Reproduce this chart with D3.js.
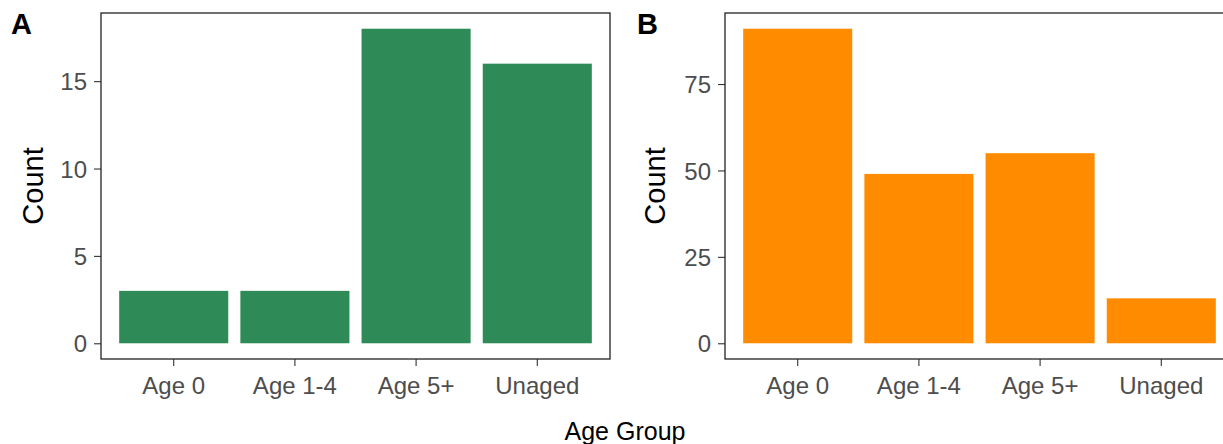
<!DOCTYPE html>
<html>
<head>
<meta charset="utf-8">
<script src="https://cdn.jsdelivr.net/npm/d3@7"></script>
<style>
  body { margin: 0; background: #fff; }
  svg { display: block; font-family: "Liberation Sans", Arial, sans-serif; }
</style>
</head>
<body>
<script>
// chart data
var ageGroups = ["Age 0", "Age 1-4", "Age 5+", "Unaged"];
var countsA = [3, 3, 18, 16];
var countsB = [91, 49, 55, 13];
var ticksA = [0, 5, 10, 15];
var ticksB = [0, 25, 50, 75];

var width = 1223, height = 444;

var svg = d3.select("body").append("svg")
    .attr("width", width)
    .attr("height", height);

function drawPanel(opts) {
    var left = opts.left, right = opts.right, top = 13, bottom = 359;
    var maxV = d3.max(opts.values);
    var pad = maxV * 0.05;

    var x = d3.scaleBand()
        .domain(ageGroups)
        .range([left, right])
        .paddingInner(0.1)
        .paddingOuter(0.15);
    var y = d3.scaleLinear()
        .domain([-pad, maxV + pad])
        .range([bottom, top]);

    var g = svg.append("g");

    g.selectAll("rect.bar")
        .data(opts.values)
        .enter().append("rect")
        .attr("class", "bar")
        .attr("x", function(d, i) { return x(ageGroups[i]); })
        .attr("width", x.bandwidth())
        .attr("y", function(d) { return y(d); })
        .attr("height", function(d) { return y(0) - y(d); })
        .attr("fill", opts.color);

    // y axis
    var yAxis = g.append("g")
        .attr("transform", "translate(" + left + ",0)")
        .call(d3.axisLeft(y).tickValues(opts.ticks).tickSize(7).tickPadding(7));
    yAxis.select(".domain").remove();
    yAxis.selectAll(".tick line").attr("stroke", "#333").attr("stroke-width", 1.1);
    yAxis.selectAll(".tick text")
        .attr("fill", "#4D4D4D")
        .style("font-size", "24px")
        .attr("dy", "0.36em");

    // x axis
    var xAxis = g.append("g")
        .attr("transform", "translate(0," + bottom + ")")
        .call(d3.axisBottom(x).tickSize(7).tickPadding(11));
    xAxis.select(".domain").remove();
    xAxis.selectAll(".tick line").attr("stroke", "#333").attr("stroke-width", 1.1);
    xAxis.selectAll(".tick text")
        .attr("fill", "#4D4D4D")
        .style("font-size", "24px");

    // panel border
    g.append("rect")
        .attr("x", left)
        .attr("y", top)
        .attr("width", right - left)
        .attr("height", bottom - top)
        .attr("fill", "none")
        .attr("stroke", "#222")
        .attr("stroke-width", 1.3);

    // y title
    g.append("text")
        .attr("transform", "translate(" + opts.titleX + "," + ((top + bottom) / 2) + ")rotate(-90)")
        .attr("text-anchor", "middle")
        .style("font-size", "29px")
        .attr("fill", "#000")
        .text("Count");

    // panel tag
    g.append("text")
        .attr("x", opts.tagX)
        .attr("y", 34)
        .style("font-size", "29px")
        .style("font-weight", "bold")
        .attr("fill", "#000")
        .text(opts.tag);
}

drawPanel({ left: 101, right: 610, values: countsA, ticks: ticksA, color: "#2E8B57", titleX: 43, tagX: 11, tag: "A" });
drawPanel({ left: 725, right: 1234, values: countsB, ticks: ticksB, color: "#FF8C00", titleX: 665, tagX: 637, tag: "B" });

svg.append("text")
    .attr("x", 625)
    .attr("y", 440)
    .attr("text-anchor", "middle")
    .style("font-size", "25px")
    .attr("fill", "#000")
    .text("Age Group");
</script>
</body>
</html>
